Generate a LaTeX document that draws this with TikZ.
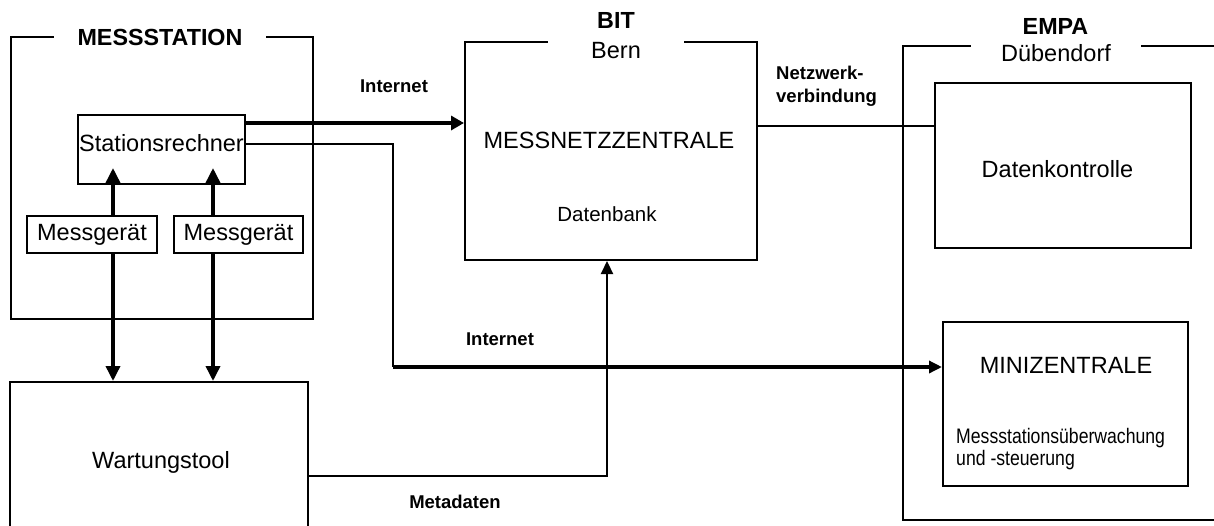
\documentclass[tikz,border=0pt]{standalone}
\usepackage{fontspec}
\setmainfont{Liberation Sans}
\newfontfamily\narrowfont[FakeStretch=0.84]{Liberation Sans}
\usetikzlibrary{arrows.meta}

\begin{document}
\begin{tikzpicture}[x=1pt,y=-1pt,
  frame/.style={rectangle,draw,line width=2pt,inner sep=0pt},
  box/.style={rectangle,draw,line width=2pt,inner sep=0pt,font=\fontsize{23.5}{28}\selectfont},
  txt/.style={inner sep=0pt,anchor=base,font=\fontsize{23.5}{28}\selectfont},
  titel/.style={inner sep=0pt,anchor=base,font=\fontsize{23.3}{28}\selectfont\bfseries},
  lbl/.style={inner sep=0pt,anchor=base,font=\fontsize{18.5}{23}\selectfont\bfseries},
  pfeil/.style={-{Triangle[length=15pt,width=14pt]},line width=3.5pt},
  duenn/.style={line width=1.3pt},
  dick/.style={line width=3.5pt},
  meta/.style={-{Triangle[length=13pt,width=12pt]},line width=2.2pt}]
\useasboundingbox (0,0) rectangle (1214,525);
\clip (0,0) rectangle (1214,525);

\node[frame,minimum width=301.5pt,minimum height=281.7pt] (ms) at (161.75,178.15) {};
\node[titel,fill=white,inner xsep=24pt,inner ysep=2pt] (ms-titel) at (160,45) {MESSSTATION};
\node[box,minimum width=167pt,minimum height=69pt] (stat) at (161.5,149.5) {};
\node[txt] (stat-txt) at (161.5,151) {Stationsrechner};
\node[box,minimum width=130pt,minimum height=37pt] (mg1) at (92,234.5) {Messger\"at};
\node[box,minimum width=129pt,minimum height=37pt] (mg2) at (238.5,234.5) {Messger\"at};
\node[box,minimum width=297.5pt,minimum height=163pt] (wart) at (158.75,463.5) {};
\node[txt] (wart-txt) at (161,468.5) {Wartungstool};

\node[frame,minimum width=292pt,minimum height=218pt] (bit) at (611,151) {};
\node[titel] (bit-titel) at (616,28.3) {BIT};
\node[txt,fill=white,minimum width=136pt,inner ysep=3pt] (bit-ort) at (616,58.3) {Bern};
\node[txt] (bit-txt) at (609,148.3) {MESSNETZZENTRALE};
\node[txt,font=\fontsize{20.5}{24}\selectfont] (db-txt) at (607,221) {Datenbank};

\node[frame,minimum width=337pt,minimum height=474.3pt] (empa) at (1071.5,282.85) {};
\node[titel] (empa-titel) at (1055.5,34) {EMPA};
\node[txt,fill=white,minimum width=170pt,inner ysep=3pt] (empa-ort) at (1056,61) {D\"ubendorf};
\node[box,minimum width=256pt,minimum height=165pt] (dk) at (1063,165.5) {};
\node[txt] (dk-txt) at (1057.5,177) {Datenkontrolle};
\node[box,minimum width=245pt,minimum height=164pt] (mini) at (1065.5,404) {};
\node[txt] (mini-txt) at (1066,373) {MINIZENTRALE};
\node[inner sep=0pt,anchor=north west,align=left,font=\narrowfont\fontsize{21}{22}\selectfont] (mini-sub) at (956,427.7) {Messstations\"uberwachung\\und -steuerung};

\coordinate (p1) at ([xshift=21pt]mg1.center);
\coordinate (p2) at ([xshift=-25.5pt]mg2.center);
\draw[pfeil,shorten >=-17pt] (p1 |- mg1.north) -- (p1 |- stat.south);
\draw[pfeil,shorten >=-17pt] (p2 |- mg2.north) -- (p2 |- stat.south);
\draw[pfeil] (p1 |- mg1.south) -- (p1 |- wart.north);
\draw[pfeil] (p2 |- mg2.south) -- (p2 |- wart.north);

\coordinate (s1) at ([yshift=26.5pt]stat.east);
\coordinate (s2) at ([yshift=5.5pt]stat.east);
\coordinate (knick) at (393,367);
\draw[pfeil,-{Triangle[length=13pt,width=14pt]}] (s1) -- (s1 -| bit.west);
\node[lbl] (inet1) at (394,92.3) {Internet};
\draw[duenn] (s2) -| (knick);
\draw[pfeil,-{Triangle[length=13pt,width=12pt]}] (knick) -- (knick -| mini.west);
\node[lbl] (inet2) at (500,345) {Internet};

\coordinate (n1) at ([yshift=25pt]bit.east);
\draw[duenn] (n1) -- (n1 -| dk.west);
\node[lbl,anchor=north west,align=left] (netz) at (776,65.5) {Netzwerk-\\verbindung};

\draw[meta] ([yshift=-12.5pt]wart.east) -| ([xshift=-4pt]bit.south);
\node[lbl] (meta-txt) at (455,508.3) {Metadaten};
\end{tikzpicture}
\end{document}
